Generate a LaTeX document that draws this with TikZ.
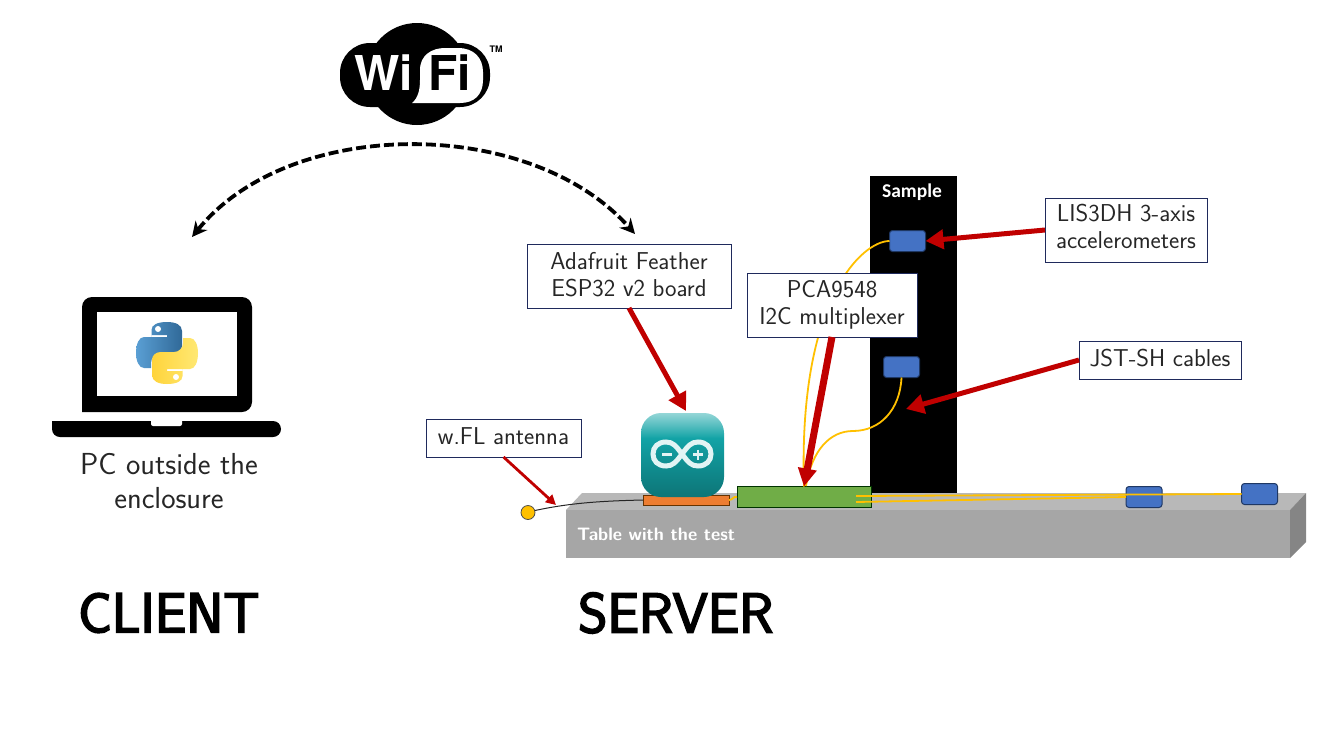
\documentclass[tikz,border=0pt]{standalone}
\usepackage{fontspec}
\usetikzlibrary{arrows.meta}
\newfontfamily\logofont{TeX Gyre Heros}
\newfontfamily\calfont{Carlito}
\newfontfamily\titlefont[FakeBold=3.4]{Latin Modern Sans}
\definecolor{navyline}{HTML}{1F2A5C}
\definecolor{redline}{HTML}{C00000}
\definecolor{cableyellow}{HTML}{FFC000}
\definecolor{sensorblue}{HTML}{4472C4}
\definecolor{sensorline}{HTML}{1F3864}
\definecolor{textgray}{HTML}{262626}
\definecolor{tealmid}{HTML}{12A3A6}
\definecolor{pyblue}{HTML}{5A9FD4}
\definecolor{pybluedark}{HTML}{306998}
\definecolor{pyyellow}{HTML}{FFD43B}
\definecolor{pyyellowlight}{HTML}{FFE873}
\pgfdeclareverticalshading{arduinoshade}{100bp}{color(0bp)=(tealmid!72!black); color(25bp)=(tealmid!72!black); color(33bp)=(tealmid!78!black); color(60bp)=(tealmid); color(68bp)=(tealmid!70!white); color(75bp)=(tealmid!45!white); color(100bp)=(tealmid!45!white)}
\tikzset{
	labelbox/.style={draw=navyline, line width=0.9pt, fill=white, text=textgray, font=\sffamily\fontsize{24.4}{27}\selectfont, align=center, inner sep=0pt, outer sep=0pt},
	textup/.style={execute at end node={\rule[-#1]{0pt}{0pt}}},
	sensorbox/.style={draw=sensorline, line width=1pt, fill=sensorblue, rounded corners=3pt, minimum width=36pt, minimum height=21pt, inner sep=0pt, outer sep=0pt},
	redarrow/.style={draw=redline, line width=#1},
	cable/.style={draw=cableyellow, line width=1.8pt},
	bigtitle/.style={font=\titlefont\fontsize{56}{60}\selectfont},
}
\begin{document}
\begin{tikzpicture}[x=1pt,y=-1pt]
	\useasboundingbox (0,0) rectangle (1328,742);
	
	% wifi logo
	\fill[black] (417,74) circle (51);
	\fill[black, rounded corners=30pt] (340,43) rectangle (490,107);
	\fill[white] (412,103) .. controls (418,98) and (420,90) .. (420,80) -- (420,70) .. controls (420,55) and (432,48) .. (445,48) -- (458,48) .. controls (474,48) and (483,58) .. (483,72) -- (483,80) .. controls (483,95) and (474,103) .. (460,103) -- cycle;
	\node[text=white, font=\logofont\bfseries\fontsize{48}{48}\selectfont, inner sep=0pt] (wi) at (384,73) {Wi};
	\node[text=black, font=\logofont\bfseries\fontsize{48}{48}\selectfont, inner sep=0pt] (fi) at (450,73) {Fi};
	\node[font=\logofont\bfseries\fontsize{9}{9}\selectfont, inner sep=0pt] (tm) at (496,49) {TM};
	
	\coordinate (wifileft) at (192,237);
	\coordinate (wifiright) at (635,234);
	\draw[Stealth-Stealth, line width=3.8pt, dashed, dash pattern=on 10pt off 4pt, arrows={[length=15pt,width=15pt]}] (wifileft) .. controls (290,116) and (530,116) .. (wifiright);
	
	% laptop
	\fill[black, rounded corners=10pt] (82,412) -- (82,297) -- (252,297) -- (252,412) [sharp corners] -- cycle;
	\fill[white] (97,312) rectangle (237,396);
	\fill[black, rounded corners=8pt] (52,421) -- (52,437) -- (281,437) -- (281,421) [sharp corners] -- cycle;
	\fill[white, rounded corners=2pt] (151,419) -- (151,426) -- (182,426) -- (182,419) -- cycle;
	
	% python logo
	\begin{scope}[shift={(167,353)}]
		\path[left color=pyblue, right color=pybluedark, draw=none]
			(-15.5,-16) -- (-15.5,-23) .. controls (-15.5,-28) and (-10,-31) .. (0,-31) .. controls (9,-31) and (15,-28) .. (15,-22) -- (15,-7) .. controls (15,-2) and (11,1) .. (6,1) -- (-7,1) .. controls (-12,1) and (-16,5) .. (-16,10) -- (-16,15) -- (-23,15) .. controls (-28,15) and (-31,8) .. (-31,0) .. controls (-31,-9) and (-28,-16) .. (-23,-16) -- (0,-16) -- (0,-18) -- (-15.5,-18) -- cycle;
		\fill[white] (-9,-24) circle (3);
		\begin{scope}[rotate=180]
			\path[left color=pyyellow, right color=pyyellowlight, draw=none]
				(-15.5,-16) -- (-15.5,-23) .. controls (-15.5,-28) and (-10,-31) .. (0,-31) .. controls (9,-31) and (15,-28) .. (15,-22) -- (15,-7) .. controls (15,-2) and (11,1) .. (6,1) -- (-7,1) .. controls (-12,1) and (-16,5) .. (-16,10) -- (-16,15) -- (-23,15) .. controls (-28,15) and (-31,8) .. (-31,0) .. controls (-31,-9) and (-28,-16) .. (-23,-16) -- (0,-16) -- (0,-18) -- (-15.5,-18) -- cycle;
			\fill[white] (-9,-24) circle (3);
		\end{scope}
	\end{scope}
	
	\node[font=\sffamily\fontsize{30.4}{34}\selectfont, text=textgray, align=center] (pc) at (169,481) {PC outside the\\enclosure};
	\node[bigtitle, anchor=west, inner sep=0pt] (client) at (78,613) {CLIENT};
	\node[bigtitle, anchor=west, inner sep=0pt] (server) at (578,613) {SERVER};
	
	% sample and table
	\fill[black] (870,176) rectangle (957,493);
	\node[text=white, font=\calfont\bfseries\fontsize{19.5}{19.5}\selectfont, inner sep=0pt] (sample) at (912,192) {Sample};
	\fill[black!28] (566,510) -- (582,493) -- (1306,493) -- (1290,510) -- cycle;
	\fill[black!35] (566,510) rectangle (1290,558);
	\fill[black!48] (1290,510) -- (1306,493) -- (1306,542) -- (1290,558) -- cycle;
	\node[text=white, font=\sffamily\bfseries\fontsize{18}{18}\selectfont, anchor=west, inner sep=0pt] (tabletext) at (577,534) {Table with the test};
	
	% boards
	\node[draw=black!60!green!50!black, line width=1pt, fill={rgb,255:red,112;green,173;blue,71}, minimum width=134pt, minimum height=21pt, inner sep=0pt, outer sep=0pt] (mux) at (804,497) {};
	\node[draw=orange!40!black, line width=1pt, fill={rgb,255:red,237;green,125;blue,49}, minimum width=86pt, minimum height=10pt, inner sep=0pt, outer sep=0pt] (esp) at (686,500) {};
	\node[rounded corners=20pt, minimum width=83pt, minimum height=84pt, inner sep=0pt, outer sep=0pt, shading=arduinoshade] (arduino) at (682.5,455) {};
	\draw[white!88!tealmid, line width=5pt] (682,454) .. controls (688,446) and (691,442) .. (698,442) .. controls (706,442) and (711,447) .. (711,454) .. controls (711,461) and (706,466) .. (698,466) .. controls (691,466) and (688,462) .. (682,454) .. controls (676,446) and (673,442) .. (666,442) .. controls (658,442) and (653,447) .. (653,454) .. controls (653,461) and (658,466) .. (666,466) .. controls (673,466) and (676,462) .. (682,454);
	\draw[white!88!tealmid, line width=2.5pt] (662,454.5) -- (672,454.5);
	\draw[white!88!tealmid, line width=2.5pt] (693,454.5) -- (703,454.5);
	\draw[white!88!tealmid, line width=2.5pt] (698,449.5) -- (698,459.5);
	
	% sensors
	\node[sensorbox] (sensora) at (907.5,241) {};
	\node[sensorbox] (sensorb) at (901.5,367) {};
	\node[sensorbox] (sensorc) at (1144,497) {};
	\node[sensorbox] (sensord) at (1259.5,494) {};
	
	% cables
	\draw[cable] (sensora.west) .. controls (862,241) and (798,300) .. (mux.north);
	\draw[cable] (sensorb.south) .. controls (900,410) and (880,431) .. (853,431) .. controls (830,431) and (812,450) .. (806,486);
	\draw[cable] (856,496) -- (sensord.west);
	\draw[cable] (856,502) -- (sensorc.west);
	\draw[cable] (esp.east) .. controls (733,500) and (733,496) .. (mux.west);
	
	% antenna
	\node[circle, draw=black!70, line width=0.8pt, fill=cableyellow, minimum size=14pt, inner sep=0pt, outer sep=0pt] (antenna) at (528,512.5) {};
	\draw[black!85, line width=1pt] (antenna) ++(7,-2) .. controls (570,503) and (600,501) .. (esp.west);
	
	% labels
	\node[labelbox, textup=4pt, minimum width=204pt, minimum height=64pt] (adafruit) at (629,276) {Adafruit Feather\\ESP32 v2 board};
	\node[labelbox, minimum width=170pt, minimum height=64pt] (pca) at (832,305) {PCA9548\\I2C multiplexer};
	\node[labelbox, textup=8pt, minimum width=162pt, minimum height=64pt] (lis) at (1126,230) {LIS3DH 3-axis\\accelerometers};
	\node[labelbox, textup=4pt, minimum width=162pt, minimum height=38pt] (jst) at (1160,360) {JST-SH cables};
	\node[labelbox, textup=4pt, minimum width=155pt, minimum height=38pt] (wfl) at (503.5,438) {w.FL antenna};
	
	\coordinate (arduinotop) at (686,411);
	\coordinate (cabletip) at (906,409);
	\coordinate (antennatip) at (556,505);
	\draw[redarrow=5pt, -{Triangle[length=18pt,width=19pt]}] (adafruit.south) -- (arduinotop);
	\draw[redarrow=7pt, -{Triangle[length=18pt,width=18pt]}] (pca.south) -- (mux.north);
	\draw[redarrow=5pt, -{Triangle[length=18pt,width=19pt]}] (lis.west) -- (sensora.east);
	\draw[redarrow=5pt, -{Triangle[length=18pt,width=19pt]}] (jst.west) -- (cabletip);
	\draw[redarrow=2.8pt, -{Triangle[length=10pt,width=10pt]}] (wfl.south) -- (antennatip);
\end{tikzpicture}
\end{document}
